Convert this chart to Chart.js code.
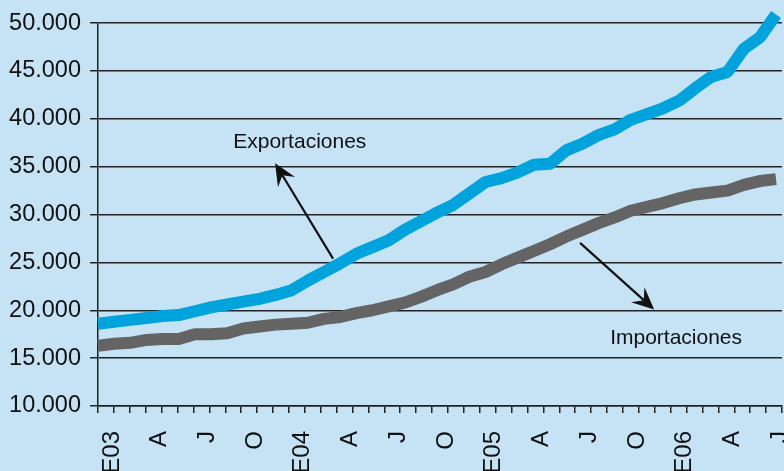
<!DOCTYPE html>
<html>
<head>
<meta charset="utf-8">
<script src="https://cdn.jsdelivr.net/npm/chart.js@4/dist/chart.umd.min.js"></script>
<style>
  html, body { margin: 0; padding: 0; background: #c6e3f6; }
  canvas { display: block; }
</style>
</head>
<body>
<canvas id="c" width="784" height="471"></canvas>
<script>
// Monthly categories, Jan 2003 - Jul 2006
const xLabels = ['E03','','','A','','','J','','','O','','',
                 'E04','','','A','','','J','','','O','','',
                 'E05','','','A','','','J','','','O','','',
                 'E06','','','A','','','J'];
// Exportaciones
const exportaciones = [18600,18800,19000,19200,19400,19500,19900,20300,20600,20900,21200,21600,
                       22100,23100,24000,24900,25900,26600,27300,28400,29300,30200,31000,32200,
                       33400,33800,34400,35200,35300,36700,37400,38300,38900,39900,40500,41100,
                       41900,43200,44400,44900,47300,48500,50900];
// Importaciones
const importaciones = [16300,16500,16600,16900,17000,17000,17500,17500,17600,18100,18300,18500,
                       18600,18700,19100,19300,19700,20000,20400,20800,21400,22100,22700,23500,
                       24000,24800,25500,26200,26900,27700,28400,29100,29700,30400,30800,31200,
                       31700,32100,32300,32500,33100,33500,33700];
const yTicks = [10000,15000,20000,25000,30000,35000,40000,45000,50000];

const FONT = "'Liberation Sans', Arial, Helvetica, sans-serif";
const INK = '#111';

function fmt(v) {
  const s = String(Math.round(v));
  return s.replace(/\B(?=(\d{3})+(?!\d))/g, '.');
}

const bgPlugin = {
  id: 'bg',
  beforeDraw(chart) {
    const ctx = chart.ctx;
    ctx.save();
    ctx.fillStyle = '#c6e3f6';
    ctx.fillRect(0, 0, chart.width, chart.height);
    ctx.restore();
  }
};

function arrow(ctx, x1, y1, x2, y2) {
  const ang = Math.atan2(y2 - y1, x2 - x1);
  const L = 22, W = 10, N = 14;
  const bx = x2 - L * Math.cos(ang), by = y2 - L * Math.sin(ang);
  const nx = x2 - N * Math.cos(ang), ny = y2 - N * Math.sin(ang);
  ctx.beginPath();
  ctx.moveTo(x1, y1);
  ctx.lineTo(nx, ny);
  ctx.lineWidth = 2.2;
  ctx.strokeStyle = '#111';
  ctx.stroke();
  ctx.beginPath();
  ctx.moveTo(x2, y2);
  ctx.lineTo(bx + W * Math.sin(ang), by - W * Math.cos(ang));
  ctx.lineTo(nx, ny);
  ctx.lineTo(bx - W * Math.sin(ang), by + W * Math.cos(ang));
  ctx.closePath();
  ctx.fillStyle = '#111';
  ctx.fill();
}

const annPlugin = {
  id: 'ann',
  afterDatasetsDraw(chart) {
    const xs = chart.scales.xd, ys = chart.scales.y, ctx = chart.ctx;
    ctx.save();
    arrow(ctx, xs.getPixelForValue(14.56), ys.getPixelForValue(25400),
               xs.getPixelForValue(10.97), ys.getPixelForValue(35350));
    arrow(ctx, xs.getPixelForValue(29.86), ys.getPixelForValue(27040),
               xs.getPixelForValue(34.45), ys.getPixelForValue(20080));
    ctx.fillStyle = INK;
    ctx.font = '21px ' + FONT;
    ctx.textAlign = 'center';
    ctx.textBaseline = 'middle';
    ctx.fillText('Exportaciones', xs.getPixelForValue(12.5), ys.getPixelForValue(37530));
    ctx.fillText('Importaciones', xs.getPixelForValue(35.81), ys.getPixelForValue(17060));
    ctx.restore();
  }
};

new Chart(document.getElementById('c'), {
  type: 'line',
  data: {
    datasets: [
      {
        label: 'Importaciones',
        data: importaciones.map((v, i) => ({ x: i, y: v })),
        xAxisID: 'xd', yAxisID: 'y',
        borderColor: '#646464', borderWidth: 12,
        borderCapStyle: 'butt', borderJoinStyle: 'bevel',
        pointRadius: 0, tension: 0, fill: false, clip: false
      },
      {
        label: 'Exportaciones',
        data: exportaciones.map((v, i) => ({ x: i, y: v })),
        xAxisID: 'xd', yAxisID: 'y',
        borderColor: '#00a3db', borderWidth: 12,
        borderCapStyle: 'butt', borderJoinStyle: 'bevel',
        pointRadius: 0, tension: 0, fill: false, clip: false
      }
    ]
  },
  options: {
    responsive: false,
    animation: false,
    layout: { padding: { top: 21, right: 2, left: 0, bottom: 0 } },
    plugins: { legend: { display: false }, tooltip: { enabled: false } },
    scales: {
      x: {
        type: 'category',
        labels: xLabels,
        offset: true,
        grid: { offset: true, drawOnChartArea: false, drawTicks: true, tickLength: 7, color: '#222', lineWidth: 1.5 },
        border: { display: true, color: '#222', width: 1.5 },
        ticks: { autoSkip: false, maxRotation: 90, minRotation: 90, color: INK, padding: 18, labelOffset: 6,
                 font: { size: 24, family: FONT } },
        afterFit(s) { s.height = 65; s.paddingLeft = 0; s.paddingRight = 0; }
      },
      xd: { type: 'linear', display: false, min: 0, max: 42.37 },
      y: {
        min: 10000, max: 50000,
        afterBuildTicks(s) { s.ticks = yTicks.map(v => ({ value: v })); },
        ticks: { callback: v => fmt(v), color: INK, padding: 9, font: { size: 23.5, family: FONT } },
        grid: { color: '#222', lineWidth: 1.5, tickLength: 8 },
        border: { color: '#222', width: 1.5 },
        afterFit(s) { s.width = 98; }
      }
    }
  },
  plugins: [bgPlugin, annPlugin]
});
</script>
</body>
</html>
